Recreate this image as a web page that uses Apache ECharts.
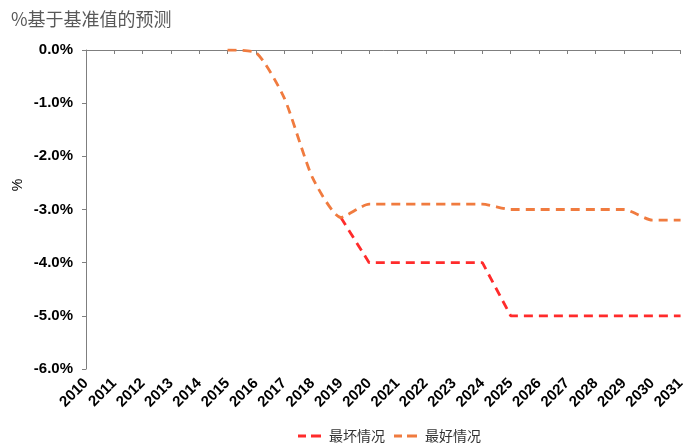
<!DOCTYPE html>
<html>
<head>
<meta charset="utf-8">
<script src="https://cdn.jsdelivr.net/npm/echarts@6/dist/echarts.min.js"></script>
<style>
  html, body { margin: 0; padding: 0; background: #fff; }
  #chart { width: 688px; height: 446px; }
</style>
</head>
<body>
<div id="chart"></div>
<script>
// Forecast deviation from baseline, in percent
const years = ['2010','2011','2012','2013','2014','2015','2016','2017','2018','2019','2020',
               '2021','2022','2023','2024','2025','2026','2027','2028','2029','2030','2031'];
const worstCase = [null, null, null, null, null, null, null, null, null, -3.15, -4.0,
                   -4.0, -4.0, -4.0, -4.0, -5.0, -5.0, -5.0, -5.0, -5.0, -5.0, -5.0];
const bestCase = [null, null, null, null, null, 0.0, -0.05, -0.9, -2.4, -3.15, -2.9,
                  -2.9, -2.9, -2.9, -2.9, -3.0, -3.0, -3.0, -3.0, -3.0, -3.2, -3.2];

const chart = echarts.init(document.getElementById('chart'));
const labelFont = { fontFamily: 'Liberation Sans, Arial, sans-serif', fontWeight: 'bold', fontSize: 15, color: '#000' };
// two short dashes used as the legend symbol
const dashIcon = 'path://M0,0 h8 v3 h-8 z M13,0 h10 v3 h-10 z';

chart.setOption({
  animation: false,
  title: {
    text: '%基于基准值的预测',
    left: 6, top: 5,
    textStyle: { fontFamily: 'Noto Sans CJK SC, sans-serif', fontWeight: 'normal', fontSize: 18, color: '#595959' }
  },
  // y-axis unit label, rotated
  graphic: [{
    type: 'text', x: 18, y: 185, rotation: Math.PI / 2,
    style: { text: '%', fill: '#000', font: '14px "Liberation Sans", Arial, sans-serif', align: 'center', verticalAlign: 'middle' }
  }],
  legend: {
    bottom: -2, left: 293,
    itemWidth: 23, itemHeight: 3, itemGap: 9,
    textStyle: { fontFamily: 'Noto Sans CJK SC, sans-serif', fontSize: 14, color: '#333', padding: [0, 0, 0, 3] },
    data: [{ name: '最坏情况', icon: dashIcon }, { name: '最好情况', icon: dashIcon }]
  },
  grid: { left: 86, right: 0, top: 50, bottom: 77, containLabel: false },
  xAxis: [{
    type: 'category', data: years, boundaryGap: false, position: 'bottom',
    axisLine: { show: false }, axisTick: { show: false },
    axisLabel: Object.assign({ rotate: 45, interval: 0, margin: 12 }, labelFont)
  }, {
    type: 'category', data: years, boundaryGap: false, position: 'top',
    axisLine: { show: true, onZero: false, lineStyle: { color: '#7f7f7f', width: 1 } },
    axisTick: { show: true, inside: true, length: 4, interval: 0, lineStyle: { color: '#7f7f7f' } },
    axisLabel: { show: false }
  }],
  yAxis: {
    type: 'value', min: -6, max: 0, interval: 1,
    axisLine: { show: true, lineStyle: { color: '#7f7f7f', width: 1 } },
    axisTick: { show: true, length: 4, lineStyle: { color: '#7f7f7f' } },
    splitLine: { show: false },
    axisLabel: Object.assign({ margin: 13, formatter: v => v.toFixed(1) + '%' }, labelFont)
  },
  series: [{
    name: '最坏情况', type: 'line', data: worstCase, showSymbol: false, symbol: 'none',
    lineStyle: { color: '#ff2b2b', width: 2.8, type: [9, 6] },
    itemStyle: { color: '#ff2b2b' }, z: 2
  }, {
    name: '最好情况', type: 'line', data: bestCase, showSymbol: false, symbol: 'none',
    smooth: 0.2,
    lineStyle: { color: '#f07b3f', width: 2.8, type: [9, 6] },
    itemStyle: { color: '#f07b3f' }, z: 3
  }]
});
</script>
</body>
</html>
